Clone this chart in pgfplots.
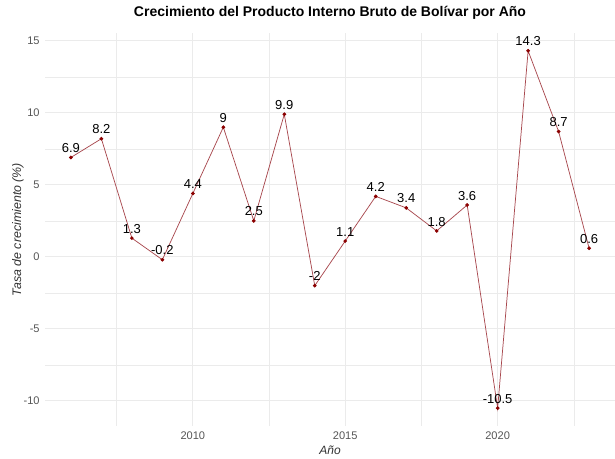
\documentclass[border=0pt]{standalone}
\usepackage{pgfplots}
\pgfplotsset{compat=1.18}
\usepackage{fontspec}
\setmainfont{Liberation Sans}
\definecolor{gridc}{RGB}{235,235,235}
\definecolor{tickc}{RGB}{85,85,85}
\definecolor{darkred}{RGB}{139,0,0}
\definecolor{linec}{RGB}{168,72,78}
\begin{document}
\begin{tikzpicture}
\path[use as bounding box] (0,0) rectangle (461.25pt,344.25pt);
\begin{axis}[
  at={(33.75pt,24.75pt)}, anchor=south west,
  scale only axis,
  width=427.5pt, height=294.75pt,
  xmin=2005.15, xmax=2023.85,
  ymin=-11.74, ymax=15.54,
  xtick={2010,2015,2020},
  ytick={-10,-5,0,5,10,15},
  minor xtick={2007.5,2012.5,2017.5,2022.5},
  minor ytick={-7.5,-2.5,2.5,7.5,12.5},
  xticklabels={2010,2015,2020},
  yticklabels={-10,-5,0,5,10,15},
  grid=both,
  major grid style={gridc, line width=0.7pt},
  minor grid style={gridc, line width=0.35pt},
  axis line style={draw=none},
  tick style={draw=none},
  tick label style={font=\fontsize{8.3}{9}\selectfont, text=tickc},
  xticklabel style={yshift=-0.5pt},
  yticklabel style={xshift=-0.5pt},
  /pgf/number format/assume math mode=true,
  title={Crecimiento del Producto Interno Bruto de Bolívar por Año},
  title style={font=\fontsize{10.5}{12}\selectfont\bfseries, at={(axis description cs:0.5,1)}, anchor=base, yshift=6.5pt},
  xlabel={Año},
  xlabel style={font=\fontsize{9}{10}\selectfont\itshape, text={rgb,255:red,50;green,50;blue,50}, at={(axis description cs:0.5,0)}, anchor=base, yshift=-21.5pt},
  ylabel={Tasa de crecimiento (\%)},
  ylabel style={font=\fontsize{9.3}{10}\selectfont\itshape, text={rgb,255:red,50;green,50;blue,50}, at={(axis description cs:0,0.5)}, anchor=center, yshift=20.25pt},
  clip=false,
]
\addplot[linec, line width=0.55pt, mark=*, mark size=1.1pt, mark options={fill=darkred, draw=darkred},
  nodes near coords, point meta=explicit symbolic,
  nodes near coords style={font=\fontsize{9.75}{11}\selectfont, text=black, anchor=south, inner sep=1pt, yshift=2.3pt}]
  table[meta=lab] {
x y lab
2006 6.9 6.9
2007 8.2 8.2
2008 1.3 1.3
2009 -0.2 -0.2
2010 4.4 4.4
2011 9 9
2012 2.5 2.5
2013 9.9 9.9
2014 -2 -2
2015 1.1 1.1
2016 4.2 4.2
2017 3.4 3.4
2018 1.8 1.8
2019 3.6 3.6
2020 -10.5 -10.5
2021 14.3 14.3
2022 8.7 8.7
2023 0.6 0.6
};
\end{axis}
\end{tikzpicture}
\end{document}
